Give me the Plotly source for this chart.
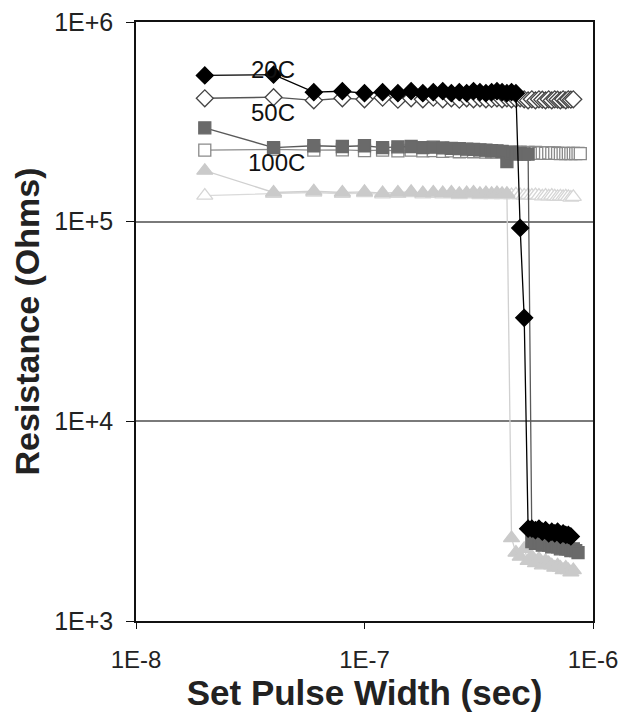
import math
import plotly.graph_objects as go

# Set pulse widths (ns)
pulse_ns = [20, 40, 60, 80, 100, 120, 140, 160, 180, 200, 220, 240, 260, 280, 300,
            320, 340, 360, 380, 400, 420, 440, 460, 480, 500, 520, 540, 560, 580, 600,
            620, 640, 660, 680, 700, 720, 740, 760, 780, 800, 820, 840, 860, 880]

# 20C, filled diamonds (Ohms)
r_20c_a = [540000, 545000, 445000, 450000, 440000, 445000, 440000, 450000, 440000, 445000,
           450000, 440000, 445000, 440000, 450000, 445000, 440000, 445000, 450000, 445000,
           440000, 445000, 440000, 93000, 33000, 2900, 2900, 2850, 2900, 2800,
           2850, 2750, 2800, 2750, 2800, 2700, 2750, 2700, 2700, 2650]
# open diamonds
r_20c_b = [415000, 420000, 405000, 415000, 410000, 418000, 408000, 415000, 410000, 418000,
           410000, 415000, 408000, 415000, 410000, 415000, 410000, 412000, 415000, 410000,
           415000, 410000, 412000, 415000, 410000, 405000, 410000, 405000, 410000, 408000,
           405000, 410000, 405000, 410000, 408000, 405000, 410000, 405000, 410000, 408000, 410000]
# filled squares
r_50c_a = [295000, 235000, 240000, 238000, 240000, 235000, 237000, 238000, 235000, 236000,
           234000, 233000, 232000, 231000, 230000, 229000, 228000, 227000, 226000, 225000,
           200000, 222000, 218000, 220000, 218000, 218000, 2500, 2450, 2500, 2400,
           2450, 2400, 2350, 2400, 2350, 2300, 2350, 2300, 2300, 2250, 2300, 2250, 2200]
# open squares
r_50c_b = [228000, 230000, 228000, 229000, 227000, 228000, 226000, 228000, 226000, 227000,
           225000, 226000, 224000, 225000, 224000, 225000, 223000, 224000, 223000, 224000,
           222000, 223000, 222000, 223000, 221000, 222000, 221000, 222000, 220000, 221000,
           220000, 221000, 220000, 221000, 220000, 219000, 220000, 219000, 220000, 219000,
           220000, 219000, 220000, 219000]
# filled triangles
r_100c_a = [180000, 140000, 142000, 140000, 141000, 139000, 140000, 141000, 139000, 140000,
            139000, 140000, 138000, 139000, 140000, 138000, 139000, 138000, 139000, 138000,
            138000, 2600, 2200, 2100, 2300, 2000, 2100, 1950, 2050, 1900,
            2000, 1950, 1900, 1850, 1900, 1850, 1800, 1850, 1800, 1750, 1800]
# open triangles
r_100c_b = [135000, 138000, 140000, 138000, 139000, 137000, 138000, 139000, 137000, 138000,
            137000, 138000, 136000, 137000, 138000, 136000, 137000, 136000, 137000, 136000,
            137000, 136000, 137000, 136000, 135000, 136000, 135000, 136000, 135000, 134000,
            135000, 134000, 135000, 134000, 133000, 134000, 133000, 134000, 133000, 132000, 133000]

labels = ["20C", "50C", "100C"]
label_x_s = [3.96e-8, 3.96e-8, 4.13e-8]
label_y = [5.75e5, 3.54e5, 1.99e5]

y_tickvals = [1e3, 1e4, 1e5, 1e6]
y_ticktext = ["1E+3", "1E+4", "1E+5", "1E+6"]
x_tickvals = [1e-8, 1e-7, 1e-6]
x_ticktext = ["1E-8", "1E-7", "1E-6"]


def xs(vals):
    return [p * 1e-9 for p in pulse_ns[:len(vals)]]


fig = go.Figure()

series = [
    (r_100c_b, "triangle-up", "white", "#d6d6d6", "#dadada", 14),
    (r_100c_a, "triangle-up", "#cacaca", "#cacaca", "#d0d0d0", 14),
    (r_50c_b, "square", "white", "#8a8a8a", "#8c8c8c", 12),
    (r_50c_a, "square", "#6a6a6a", "#6a6a6a", "#5a5a5a", 12),
    (r_20c_b, "diamond", "white", "#444444", "#555555", 13),
    (r_20c_a, "diamond", "#000000", "#000000", "#000000", 13),
]
for vals, sym, fill, edge, lc, sz in series:
    fig.add_trace(go.Scatter(
        x=xs(vals), y=vals, mode="lines+markers",
        line=dict(color=lc, width=1.3),
        marker=dict(symbol=sym, size=sz, color=fill, line=dict(color=edge, width=1.3)),
        showlegend=False, hoverinfo="skip"))

for t, lx, ly in zip(labels, label_x_s, label_y):
    fig.add_annotation(x=math.log10(lx), y=math.log10(ly), xref="x", yref="y",
                       text=t, showarrow=False,
                       font=dict(family="Liberation Sans, Arial", size=24, color="#111"))

fig.update_layout(
    width=623, height=713,
    margin=dict(l=136, r=30, t=22, b=92),
    paper_bgcolor="white", plot_bgcolor="white",
    font=dict(family="Liberation Sans, Arial", color="#222"),
)
fig.update_xaxes(
    type="log", range=[-8, -6], tickvals=x_tickvals, ticktext=x_ticktext,
    showgrid=False, zeroline=False, automargin=False,
    showline=True, linecolor="#111", linewidth=1.5, mirror=True,
    ticks="outside", ticklen=6, tickcolor="#111", tickwidth=1.3,
    ticklabelstandoff=10,
    tickfont=dict(size=24, color="#222"),
    title=dict(text="<b>Set Pulse Width (sec)</b>", font=dict(size=35, color="#222"), standoff=2),
)
fig.update_yaxes(
    type="log", range=[3, 6], tickvals=y_tickvals, ticktext=y_ticktext,
    showgrid=True, gridcolor="#7a7a7a", gridwidth=2, zeroline=False, automargin=False,
    showline=True, linecolor="#111", linewidth=1.5, mirror=True,
    ticks="outside", ticklen=8, tickcolor="#111", tickwidth=1.3,
    ticklabelstandoff=8,
    tickfont=dict(size=25, color="#222"),
    title=dict(text="<b>Resistance (Ohms)</b>", font=dict(size=34, color="#222"), standoff=4),
)

fig.write_html("out.html", config={"displayModeBar": False},
               post_script="document.body.style.margin='0';")
